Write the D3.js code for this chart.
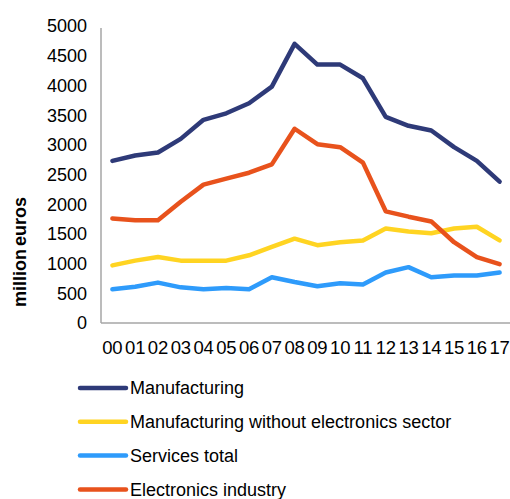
<!DOCTYPE html>
<html>
<head>
<meta charset="utf-8">
<script src="https://cdn.jsdelivr.net/npm/d3@7"></script>
<style>
  body { margin: 0; background: #fff; }
  svg { display: block; font-family: "Liberation Sans", Arial, sans-serif; }
</style>
</head>
<body>
<svg id="chart" width="510" height="499"></svg>
<script>
const years = ["00","01","02","03","04","05","06","07","08","09","10","11","12","13","14","15","16","17"];
const manufacturing = [2730,2820,2870,3100,3420,3530,3700,3980,4700,4350,4350,4120,3470,3320,3240,2960,2730,2380];
const manufacturingNoElectronics = [970,1050,1110,1050,1050,1050,1140,1280,1420,1310,1360,1390,1590,1540,1510,1590,1620,1390];
const servicesTotal = [570,610,680,600,570,590,570,770,690,620,670,650,850,940,770,800,800,850];
const electronics = [1760,1730,1730,2040,2330,2430,2530,2670,3270,3010,2960,2700,1880,1790,1710,1360,1110,990];
const yTicks = [0,500,1000,1500,2000,2500,3000,3500,4000,4500,5000];

const series = [
  { name: "Manufacturing", values: manufacturing, color: "#2e3a78" },
  { name: "Manufacturing without electronics sector", values: manufacturingNoElectronics, color: "#ffd422" },
  { name: "Services total", values: servicesTotal, color: "#2e9bfb" },
  { name: "Electronics industry", values: electronics, color: "#e8521c" }
];

const svg = d3.select("#chart");
const plotLeft = 101, plotRight = 511, plotTop = 26, plotBottom = 323;

const x = d3.scaleBand().domain(years).range([plotLeft, plotRight]);
const y = d3.scaleLinear().domain([0, 5000]).range([plotBottom, plotTop]);

// axis lines
svg.append("line")
  .attr("x1", plotLeft).attr("x2", plotLeft).attr("y1", plotTop + 2).attr("y2", plotBottom)
  .attr("stroke", "#a6a6a6").attr("stroke-width", 1.5);
svg.append("line")
  .attr("x1", plotLeft).attr("x2", plotRight).attr("y1", plotBottom).attr("y2", plotBottom)
  .attr("stroke", "#a6a6a6").attr("stroke-width", 1.5);

// y tick labels
svg.append("g").selectAll("text")
  .data(yTicks)
  .join("text")
  .attr("x", 87)
  .attr("y", d => y(d))
  .attr("dy", "0.36em")
  .attr("text-anchor", "end")
  .attr("font-size", 18)
  .attr("fill", "#000")
  .text(d => d);

// x tick labels
svg.append("g").selectAll("text")
  .data(years)
  .join("text")
  .attr("x", d => x(d) + x.bandwidth() / 2)
  .attr("y", 354)
  .attr("text-anchor", "middle")
  .attr("font-size", 18.5)
  .attr("letter-spacing", -0.2)
  .attr("fill", "#000")
  .text(d => d);

// y axis title
svg.append("text")
  .attr("transform", "translate(26,252) rotate(-90)")
  .attr("text-anchor", "middle")
  .attr("font-size", 18)
  .attr("font-weight", "bold")
  .attr("word-spacing", -2)
  .text("million euros");

const line = d3.line()
  .x((d, i) => x(years[i]) + x.bandwidth() / 2)
  .y(d => y(d));

svg.append("g").selectAll("path")
  .data(series)
  .join("path")
  .attr("fill", "none")
  .attr("stroke", d => d.color)
  .attr("stroke-width", 4.5)
  .attr("stroke-linejoin", "round")
  .attr("stroke-linecap", "round")
  .attr("d", d => line(d.values));

// legend
const legend = svg.append("g").selectAll("g")
  .data(series)
  .join("g")
  .attr("transform", (d, i) => `translate(0,${388 + i * 33.8})`);

legend.append("line")
  .attr("x1", 80).attr("x2", 126)
  .attr("stroke", d => d.color)
  .attr("stroke-width", 4.5)
  .attr("stroke-linecap", "round");

legend.append("text")
  .attr("x", 130)
  .attr("dy", "0.36em")
  .attr("font-size", 18)
  .attr("fill", "#000")
  .text(d => d.name);
</script>
</body>
</html>
